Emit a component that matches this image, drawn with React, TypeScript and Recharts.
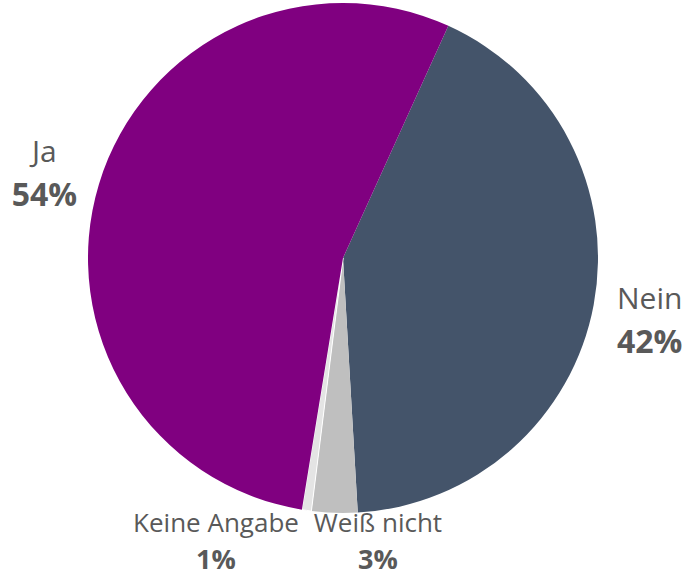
import React from "react";
import { PieChart, Pie, Cell } from "recharts";

// answer categories, clockwise from the top-right edge of "Nein"
const categories = ["Nein", "Weiß nicht", "Keine Angabe", "Ja"];
const shares = [42.3, 2.9, 0.6, 54.2];

const COLORS = ["#44546a", "#bfbfbf", "#e4e4e4", "#800080"];

const LABEL_COLOR = "#595959";
const FONT = "'Open Sans', sans-serif";

const pieData = categories.map((name, i) => ({ name, value: shares[i] }));

// the two thin slices at the bottom are pushed apart so their labels fit
const smallLabelShift: Record<string, number> = {
  "Keine Angabe": -127,
  "Weiß nicht": 35,
};

const renderLabel = (props: any) => {
  const { cx, cy, midAngle, outerRadius, percent, name } = props;
  const pct = `${Math.round(percent * 100)}%`;
  const RADIAN = Math.PI / 180;

  if (name in smallLabelShift) {
    const x = cx + smallLabelShift[name];
    const y = cy + outerRadius + 19;
    return (
      <text
        x={x}
        y={y}
        textAnchor="middle"
        fill={LABEL_COLOR}
        fontFamily={FONT}
        fontSize={26}
      >
        <tspan x={x} dy={0}>
          {name}
        </tspan>
        <tspan x={x} dy={37} fontWeight="bold" fontSize={27}>
          {pct}
        </tspan>
      </text>
    );
  }

  const r = outerRadius + 57;
  const x = cx + r * Math.cos(-midAngle * RADIAN);
  const y = cy + r * Math.sin(-midAngle * RADIAN);
  return (
    <text
      x={x}
      y={y}
      textAnchor="middle"
      fill={LABEL_COLOR}
      fontFamily={FONT}
      fontSize={30}
    >
      <tspan x={x} dy={-6}>
        {name}
      </tspan>
      <tspan x={x} dy={44} fontWeight="bold" fontSize={32}>
        {pct}
      </tspan>
    </text>
  );
};

const App: React.FC = () => {
  return (
    <div style={{ position: "fixed", left: 0, top: 0, background: "#fff" }}>
      <PieChart
        width={689}
        height={578}
        margin={{ top: 0, right: 0, bottom: 0, left: 0 }}
      >
        <Pie
          data={pieData}
          dataKey="value"
          nameKey="name"
          cx={343}
          cy={258}
          outerRadius={255}
          startAngle={65.6}
          endAngle={-294.4}
          labelLine={false}
          label={renderLabel}
          isAnimationActive={false}
        >
          {pieData.map((entry, index) => (
            <Cell
              key={`cell-${index}`}
              fill={COLORS[index % COLORS.length]}
              stroke={entry.name === "Keine Angabe" ? "#ffffff" : "none"}
              strokeWidth={1}
            />
          ))}
        </Pie>
      </PieChart>
    </div>
  );
};

export default App;
